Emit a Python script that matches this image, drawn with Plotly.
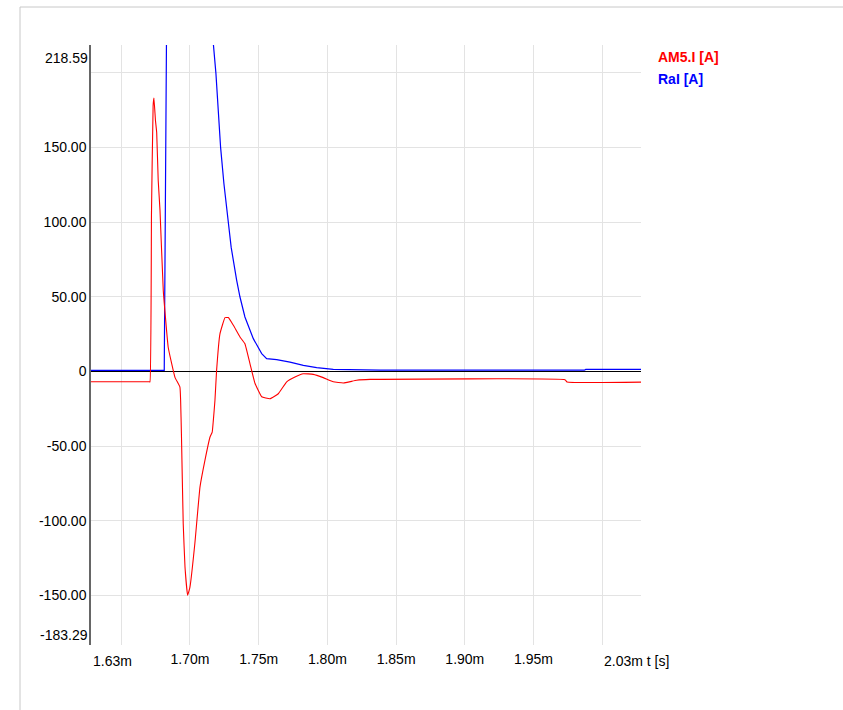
import plotly.graph_objects as go

# ---- data (time in ms, current in A) ----
t_am5 = [1.6280, 1.6702, 1.6709, 1.6720, 1.6732, 1.6738, 1.6749, 1.6758, 1.6769, 1.6782,
         1.6806, 1.6842, 1.6891, 1.6927, 1.6932, 1.6938, 1.6951, 1.6964, 1.6983, 1.7000,
         1.7036, 1.7073, 1.7109, 1.7146, 1.7162, 1.7170, 1.7182, 1.7194, 1.7218, 1.7255,
         1.7279, 1.7315, 1.7364, 1.7400, 1.7437, 1.7473, 1.7522, 1.7582, 1.7643, 1.7704,
         1.7764, 1.7825, 1.7897, 1.7970, 1.8043, 1.8116, 1.8213, 1.8310, 1.9729, 1.9744,
         2.0282]
i_am5 = [-7.0, -7.0, -7.0, 105.0, 178.0, 183.0, 168.0, 160.0, 128.0, 108.0,
         54.0, 16.0, -4.0, -10.5, -19.0, -42.0, -102.0, -131.0, -150.0, -144.5,
         -115.0, -77.5, -59.6, -44.0, -40.7, -33.0, -19.4, 0.7, 25.0, 36.0,
         36.0, 31.0, 23.0, 18.5, 5.0, -8.0, -17.0, -18.3, -15.0, -7.0,
         -3.8, -1.6, -2.0, -4.2, -7.0, -7.8, -6.0, -5.4, -5.6, -7.2,
         -7.2]

t_ra = [1.6280, 1.6813, 1.6829, 1.6840, 1.7000, 1.7170, 1.7189, 1.7206, 1.7223, 1.7247,
        1.7267, 1.7300, 1.7340, 1.7364, 1.7400, 1.7461, 1.7522, 1.7558, 1.7631, 1.7728,
        1.7825, 1.7922, 1.8043, 1.8383, 1.9870, 1.9880, 2.0282]
i_ra = [0.6, 0.6, 219.0, 420.0, 330.0, 219.6, 199.5, 172.7, 150.0, 125.8,
        107.9, 83.0, 61.0, 49.8, 36.4, 21.9, 11.9, 8.5, 7.8, 6.2,
        4.0, 2.5, 1.3, 0.8, 0.8, 1.3, 1.3]

x_range = [1.628, 2.0282]
y_range = [-183.29, 218.59]
x_grid = [1.65, 1.70, 1.75, 1.80, 1.85, 1.90, 1.95, 2.00]
x_text = ["", "1.70m", "1.75m", "1.80m", "1.85m", "1.90m", "1.95m", ""]
y_grid = [-150, -100, -50, 0, 50, 100, 150, 200]
y_text = ["-150.00", "-100.00", "-50.00", "0", "50.00", "100.00", "150.00", ""]

FONT = "Liberation Sans, Arial, sans-serif"

fig = go.Figure()
fig.add_trace(go.Scatter(x=t_ra, y=i_ra, mode="lines", name="RaI [A]",
                         line=dict(color="#0000ff", width=1.2)))
fig.add_trace(go.Scatter(x=t_am5, y=i_am5, mode="lines", name="AM5.I [A]",
                         line=dict(color="#ff0000", width=1.1, shape="spline", smoothing=0.3)))

fig.update_layout(
    width=843, height=710,
    margin=dict(l=91, r=202, t=45, b=65),
    paper_bgcolor="white", plot_bgcolor="white",
    showlegend=False,
    font=dict(family=FONT, size=14, color="#000000"),
    xaxis=dict(range=x_range, tickvals=x_grid, ticktext=x_text,
               showgrid=True, gridcolor="#e3e3e3", gridwidth=1,
               zeroline=False, showline=False, ticks="", ticklabelstandoff=4,
               tickfont=dict(family=FONT, size=14)),
    yaxis=dict(range=y_range, tickvals=y_grid, ticktext=y_text,
               showgrid=True, gridcolor="#e3e3e3", gridwidth=1,
               zeroline=True, zerolinecolor="#000000", zerolinewidth=1,
               showline=True, linecolor="#666666", linewidth=1.5,
               ticks="", ticklabelstandoff=0,
               tickfont=dict(family=FONT, size=14)),
)

# edge labels
fig.add_annotation(xref="paper", yref="paper", x=0, y=1, xanchor="right", yanchor="top",
                   xshift=-1, yshift=-3, text="218.59", showarrow=False,
                   font=dict(family=FONT, size=14))
fig.add_annotation(xref="paper", yref="paper", x=0, y=0, xanchor="right", yanchor="bottom",
                   xshift=-1, yshift=0, text="-183.29", showarrow=False,
                   font=dict(family=FONT, size=14))
fig.add_annotation(xref="paper", yref="paper", x=0, y=0, xanchor="left", yanchor="top",
                   xshift=0, yshift=-6, text="1.63m", showarrow=False,
                   font=dict(family=FONT, size=14))
fig.add_annotation(xref="paper", yref="paper", x=(602 - 91) / 550, y=0, xanchor="left", yanchor="top",
                   yshift=-6, text="2.03m t [s]", showarrow=False,
                   font=dict(family=FONT, size=14))

# legend texts
fig.add_annotation(xref="paper", yref="paper", x=(656 - 91) / 550, y=1 - (57 - 45) / 600,
                   xanchor="left", yanchor="middle", text="<b>AM5.I [A]</b>", showarrow=False,
                   font=dict(family=FONT, size=14, color="#ff0000"))
fig.add_annotation(xref="paper", yref="paper", x=(656 - 91) / 550, y=1 - (79 - 45) / 600,
                   xanchor="left", yanchor="middle", text="<b>RaI [A]</b>", showarrow=False,
                   font=dict(family=FONT, size=14, color="#0000ff"))

# outer frame lines
fig.add_shape(type="line", xref="paper", yref="paper",
              x0=(20 - 91) / 550, x1=(843 - 91) / 550, y0=1 + (45 - 7) / 600, y1=1 + (45 - 7) / 600,
              line=dict(color="#c8c8c8", width=1))
fig.add_shape(type="line", xref="paper", yref="paper",
              x0=(20 - 91) / 550, x1=(20 - 91) / 550, y0=1 + (45 - 7) / 600, y1=-(710 - 645) / 600,
              line=dict(color="#c8c8c8", width=1))

fig.write_html("out.html",
               config={"displayModeBar": False},
               post_script="document.body.style.margin='0px';document.body.style.overflow='hidden';")
